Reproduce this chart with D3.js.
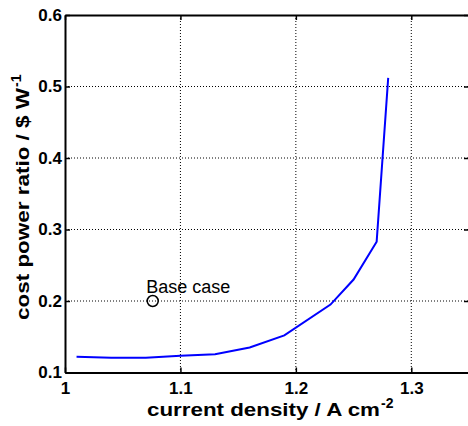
<!DOCTYPE html>
<html>
<head>
<meta charset="utf-8">
<script src="https://cdn.jsdelivr.net/npm/d3@7"></script>
<style>
  html, body { margin: 0; padding: 0; background: #fff; }
  svg { display: block; }
  text { font-family: "Liberation Sans", Arial, sans-serif; }
</style>
</head>
<body>
<svg id="chart" width="468" height="426"></svg>
<script>
// ---- data ----
const currentDensity = [1.01, 1.04, 1.07, 1.10, 1.13, 1.16, 1.19, 1.23, 1.25, 1.27, 1.28];
const costPowerRatio = [0.122, 0.1205, 0.1205, 0.1235, 0.1255, 0.135, 0.152, 0.195, 0.230, 0.283, 0.512];
const baseCase = { x: 1.076, y: 0.2, label: "Base case" };
const xTicks = [1, 1.1, 1.2, 1.3];
const yTicks = [0.1, 0.2, 0.3, 0.4, 0.5, 0.6];
const xTickLabels = ["1", "1.1", "1.2", "1.3"];
const yTickLabels = ["0.1", "0.2", "0.3", "0.4", "0.5", "0.6"];

// ---- layout ----
const mL = 65, mR = 469, mT = 15, mB = 372.5;
const svg = d3.select("#chart");
const x = d3.scaleLinear().domain([1, 1.35]).range([mL, mR]);
const y = d3.scaleLinear().domain([0.1, 0.6]).range([mB, mT]);

// grid
const grid = svg.append("g").attr("stroke", "#000").attr("stroke-width", 1).attr("stroke-dasharray", "1,2");
xTicks.slice(1).forEach(t => grid.append("line")
  .attr("x1", x(t)).attr("x2", x(t)).attr("y1", mT).attr("y2", mB));
yTicks.slice(1, -1).forEach(t => grid.append("line")
  .attr("x1", mL).attr("x2", mR).attr("y1", y(t)).attr("y2", y(t)));

// axes (MATLAB style ticks inward)
const xAxis = d3.axisBottom(x).tickValues(xTicks).tickSizeInner(-5).tickSizeOuter(0)
  .tickFormat((d, i) => xTickLabels[i]).tickPadding(9);
const gx = svg.append("g").attr("transform", `translate(0,${mB})`).call(xAxis);
const yAxis = d3.axisLeft(y).tickValues(yTicks).tickSizeInner(-5).tickSizeOuter(0)
  .tickFormat((d, i) => yTickLabels[i]).tickPadding(3);
const gy = svg.append("g").attr("transform", `translate(${mL},0)`).call(yAxis);
const gxt = svg.append("g").attr("transform", `translate(0,${mT})`)
  .call(d3.axisTop(x).tickValues(xTicks).tickSizeInner(-5).tickSizeOuter(0).tickFormat(""));
const gyr = svg.append("g").attr("transform", `translate(${mR},0)`)
  .call(d3.axisRight(y).tickValues(yTicks).tickSizeInner(-5).tickSizeOuter(0).tickFormat(""));
[gx, gy, gxt, gyr].forEach(g => {
  g.select(".domain").attr("stroke", "#000").attr("stroke-width", 2);
  g.selectAll(".tick line").attr("stroke", "#000").attr("stroke-width", 1.5);
  g.selectAll(".tick text").attr("fill", "#000")
    .style("font-family", "'Liberation Sans', Arial, sans-serif")
    .style("font-size", "17px").style("font-weight", "bold");
});

// curve
const line = d3.line().x((d, i) => x(currentDensity[i])).y(d => y(d));
svg.append("path").datum(costPowerRatio).attr("d", line)
  .attr("fill", "none").attr("stroke", "#0000ff").attr("stroke-width", 2);

// base case marker
svg.append("circle").attr("cx", x(baseCase.x)).attr("cy", y(baseCase.y)).attr("r", 5.5)
  .attr("fill", "none").attr("stroke", "#000").attr("stroke-width", 1.5);
svg.append("text").attr("x", x(baseCase.x) - 6.5).attr("y", y(baseCase.y) - 8.5)
  .style("font-size", "18px").attr("fill", "#000").text(baseCase.label);

// axis labels
svg.append("text").attr("x", 147).attr("y", 416)
  .attr("textLength", 233).attr("lengthAdjust", "spacingAndGlyphs")
  .style("font-size", "19px").style("font-weight", "bold").text("current density / A cm");
svg.append("text").attr("x", 381).attr("y", 408)
  .style("font-size", "14px").style("font-weight", "bold").text("-2");

svg.append("text").attr("transform", "translate(29,320) rotate(-90)")
  .attr("textLength", 232).attr("lengthAdjust", "spacingAndGlyphs")
  .style("font-size", "19px").style("font-weight", "bold").text("cost power ratio / $ W");
svg.append("text").attr("transform", "translate(21,87) rotate(-90)")
  .style("font-size", "14px").style("font-weight", "bold").text("-1");
</script>
</body>
</html>
